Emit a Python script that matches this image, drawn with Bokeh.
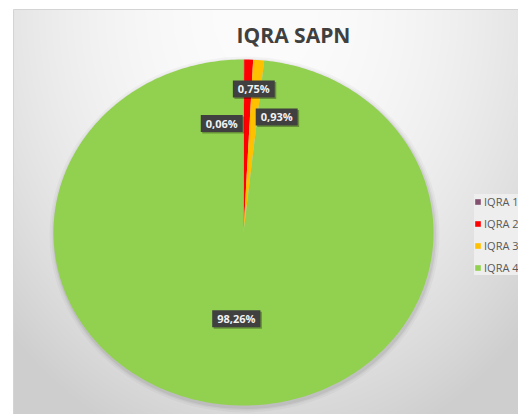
import numpy as np
from bokeh.plotting import figure
from bokeh.models import Range1d, ColumnDataSource, Legend, LegendItem
from bokeh.embed import file_html
from bokeh.resources import INLINE
from bokeh.core.properties import value

# ---------------- data ----------------
title_text = "IQRA SAPN"
categories = ["IQRA 1", "IQRA 2", "IQRA 3", "IQRA 4"]
shares = [0.06, 0.75, 0.93, 98.26]          # percent
colors = ["#83506F", "#FF0000", "#FFC000", "#92D050"]

# ---------------- layout (window pixels) ----------------
W, H = 518, 414
OX, OY = 0, 0
CX, CY, RX, RY = 243, 232, 190, 173         # pie centre and radii
label_radius = [0.63, 0.83, 0.67, 0.50]     # fraction of radius along mid-angle
label_nudge = [-22, 6, 23, -2]              # horizontal nudges (best-fit placement)
AREA_X0, AREA_Y0 = 13, 9                    # chart area top-left


def sy(y):
    """window y (down) -> data y (up)"""
    return -y


p = figure(width=W, height=H, output_backend="svg", toolbar_location=None,
           x_range=Range1d(OX, OX + W), y_range=Range1d(-(OY + H), -OY),
           min_border=0, x_axis_location=None, y_axis_location=None)
p.grid.visible = False
p.outline_line_color = None
p.background_fill_color = "white"
p.border_fill_color = "white"

# ---------------- chart area gradient ----------------
gw, gh = 518 - AREA_X0, 414 - AREA_Y0
gx = AREA_X0 + np.arange(gw) + 0.5
gy = 414 - (np.arange(gh) + 0.5)
nx = (gx[None, :] - 265) / 330.0
ny = (gy[:, None] - 10) / 420.0
v = np.clip(252 - 38 * (nx ** 2 + ny ** 2), 206, 252).astype(np.uint8)
img = np.empty((gh, gw), dtype=np.uint32)
view = img.view(dtype=np.uint8).reshape((gh, gw, 4))
view[:, :, 0] = v
view[:, :, 1] = v
view[:, :, 2] = v
view[:, :, 3] = 255
p.image_rgba(image=[img], x=AREA_X0, y=sy(414), dw=gw, dh=gh)
p.quad(left=AREA_X0, right=530, top=sy(AREA_Y0), bottom=sy(430),
       fill_color=None, line_color="#d4d4d4", line_width=1)

# ---------------- pie shadow ----------------
for k, a in [(10, 0.03), (6, 0.04), (3, 0.06)]:
    p.ellipse(x=CX + 1, y=sy(CY + 2), width=2 * RX + k, height=2 * RY + k,
              fill_color="black", fill_alpha=a, line_color=None)

# ---------------- pie slices ----------------
total = float(sum(shares))
fracs = [s / total for s in shares]
starts = np.cumsum([0.0] + fracs[:-1])
items = []
mids = []
for cat, f, st, col in zip(categories, fracs, starts, colors):
    t0, t1 = st * 2 * np.pi, (st + f) * 2 * np.pi
    n = max(3, int(np.ceil(f * 400)))
    t = np.linspace(t0, t1, n)
    xs = np.concatenate([[CX], CX + RX * np.sin(t)])
    ys = np.concatenate([[sy(CY)], sy(CY - RY * np.cos(t))])
    r = p.patch(x=xs, y=ys, fill_color=col, line_color=None)
    items.append(LegendItem(label=cat, renderers=[r]))
    mids.append((t0 + t1) / 2)

# ---------------- data labels ----------------
lab_text = [("%.2f" % s).replace(".", ",") + "%" for s in shares]
lx = [CX + RX * fr * np.sin(m) + dx for m, fr, dx in zip(mids, label_radius, label_nudge)]
ly = [sy(CY - RY * fr * np.cos(m)) for m, fr in zip(mids, label_radius)]
src = ColumnDataSource(dict(x=lx, y=ly, text=lab_text))
shadow = ColumnDataSource(dict(x=[x + 1.5 for x in lx], y=[y - 1.5 for y in ly], text=lab_text))
pad = dict(left=5, right=5, top=1, bottom=1)
p.text(x="x", y="y", text="text", source=shadow, text_align="center",
       text_baseline="middle", text_font=value("Open Sans"), text_font_style="bold",
       text_font_size="11px", text_alpha=0, background_fill_color="black",
       background_fill_alpha=0.3, padding=pad)
p.text(x="x", y="y", text="text", source=src, text_align="center",
       text_baseline="middle", text_font=value("Open Sans"), text_font_style="bold",
       text_font_size="11px", text_color="#f2f2f2", background_fill_color="#404040",
       padding=pad)

# ---------------- title ----------------
p.text(x=[293], y=[sy(34)], text=[title_text], text_align="center",
       text_baseline="middle", text_font=value("Open Sans"), text_font_style="bold",
       text_font_size="21px", text_color="#404040")

# ---------------- legend ----------------
legend = Legend(items=items, location=(474, 139), orientation="vertical",
                background_fill_color="#eeeeee", background_fill_alpha=1,
                border_line_color=None, padding=5, spacing=7, margin=0,
                label_height=13, glyph_height=7, glyph_width=7, label_standoff=3,
                label_text_font="Open Sans", label_text_font_size="11px",
                label_text_color="#595959")
p.add_layout(legend)

open("out.html", "w").write(file_html(p, INLINE))
